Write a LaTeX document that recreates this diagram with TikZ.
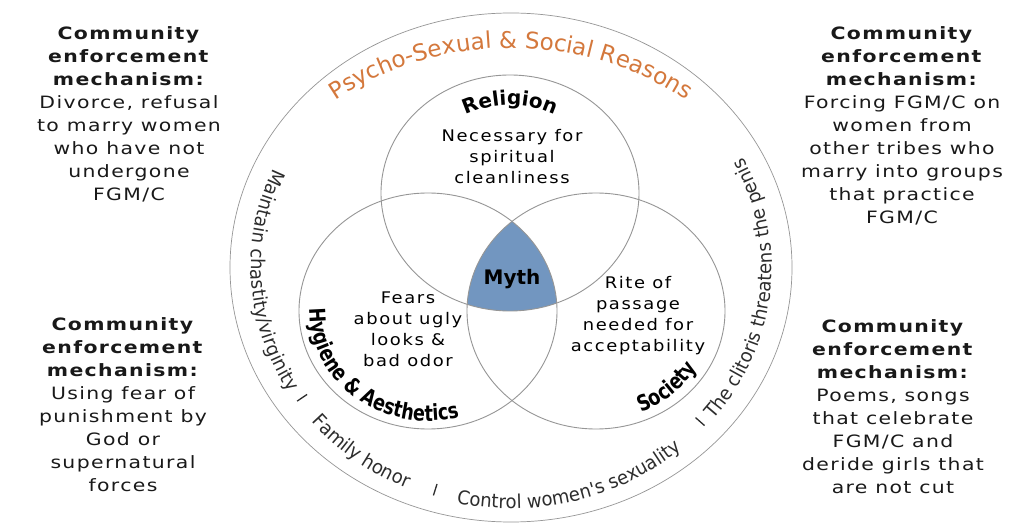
\documentclass[tikz,border=0pt]{standalone}
\usepackage{fontspec}
\setmainfont{DejaVu Sans}
\newfontfamily\sidefont{DejaVu Sans}[FakeStretch=1.2, LetterSpace=8]
\newfontfamily\vennfont{DejaVu Sans}[FakeStretch=1.12, LetterSpace=10]
\newfontfamily\ringfont{DejaVu Sans}[FakeStretch=0.95]
\newfontfamily\reasonfont{DejaVu Sans}
\newfontfamily\labelfont{DejaVu Sans}[FakeStretch=0.8]
\usetikzlibrary{positioning, calc, decorations.text}

\definecolor{ringgray}{RGB}{150,150,150}
\definecolor{mythblue}{RGB}{114,150,192}
\definecolor{reasonorange}{RGB}{212,120,60}
\definecolor{ringtext}{RGB}{45,45,45}

\newcommand\mechhead{\textbf{Community}\\\textbf{enforcement}\\\textbf{mechanism:}}

\begin{document}
\begin{tikzpicture}[x=1pt, y=-1pt,
  venn/.style={draw=ringgray, line width=0.9pt},
  sidebox/.style={inner sep=0pt, anchor=north, align=center, text=black!90,
    font=\sidefont\fontsize{17}{23}\selectfont},
  venntext/.style={inner sep=0pt, anchor=north, align=center,
    font=\vennfont\fontsize{16}{21}\selectfont},
  ringlabel/.style={decorate, decoration={text along path, text align=center,
    text color=ringtext, text={|\ringfont\fontsize{19}{21}\selectfont|#1}}},
  circlelabel/.style={decorate, decoration={text along path, text align=center,
    text={|\labelfont\bfseries\fontsize{22}{24}\selectfont|#1}}},
  sepmark/.style={draw=ringtext, line width=1.3pt}]
\useasboundingbox (0,0) rectangle (1020,526);
\fill[white] (0,0) rectangle (1020,526);

% outer ring
\draw[draw=ringgray, line width=0.7pt] (511,267.5) ellipse [x radius=281, y radius=254.5];

% Myth = overlap of all three
\begin{scope}
  \clip (510,193) ellipse [x radius=129, y radius=118];
  \clip (428,311) ellipse [x radius=129, y radius=118];
  \fill[mythblue] (596,311) ellipse [x radius=129, y radius=118];
\end{scope}

% the three circles
\draw[venn] (510,193) ellipse [x radius=129, y radius=118];
\draw[venn] (428,311) ellipse [x radius=129, y radius=118];
\draw[venn] (596,311) ellipse [x radius=129, y radius=118];

% curved title
\path[decorate, decoration={text along path, text align=center, text color=reasonorange,
    text={|\reasonfont\fontsize{23}{26}\selectfont|Psycho-Sexual {\&} Social Reasons}}]
  ([shift={(511,317)}]225:296 and 269) arc [start angle=225, end angle=315, x radius=296, y radius=269];

% ring texts and separators
\begin{scope}[shift={(511,267.5)}]
  \path[ringlabel={Maintain chastity/virginity}]
    (210:260 and 241) arc [start angle=210, end angle=143, x radius=260, y radius=241];
  \path[ringlabel={Family honor}]
    (145:260 and 241) arc [start angle=145, end angle=109, x radius=260, y radius=241];
  \path[ringlabel={Control women's sexuality}]
    (105.5:260 and 241) arc [start angle=105.5, end angle=45.5, x radius=260, y radius=241];
  \path[ringlabel={The clitoris threatens the penis}]
    (45:261 and 241) arc [start angle=45, end angle=-33, x radius=261, y radius=241];
  \foreach \a in {146,107.5,41.4}
    \draw[sepmark] (\a:258 and 239) -- (\a:246 and 227);
\end{scope}

% circle headings
\path[decorate, decoration={text along path, text align=center,
    text={|\bfseries\fontsize{20}{22}\selectfont|Religion}}]
  ([shift={(510,193)}]235:97 and 88) arc [start angle=235, end angle=305, x radius=97, y radius=88];
\path[circlelabel={Hygiene {\&} Aesthetics}]
  ([shift={(428,311)}]188:118 and 110) arc [start angle=188, end angle=68, x radius=118, y radius=110];
\path[circlelabel={Society}]
  ([shift={(596,311)}]81:118 and 110) arc [start angle=81, end angle=17, x radius=118, y radius=110];

\node[font=\bfseries\fontsize{20}{22}\selectfont, inner sep=0pt] (myth) at (512,279) {Myth};

% circle contents
\node[venntext] (religiontext) at (512,129) {Necessary for\\spiritual\\cleanliness};
\node[venntext] (hygienetext) at (408,292) {Fears\\about ugly\\looks \&\\bad odor};
\node[venntext] (societytext) at (638,276) {Rite of\\passage\\needed for\\acceptability};

% enforcement mechanisms
\node[sidebox] (topleft) at (129,26) {\mechhead\\Divorce, refusal\\to marry women\\who have not\\undergone\\FGM/C};
\node[sidebox] (topright) at (902,26) {\mechhead\\Forcing FGM/C on\\women from\\other tribes who\\marry into groups\\that practice\\FGM/C};
\node[sidebox] (bottomleft) at (123,317) {\mechhead\\Using fear of\\punishment by\\God or\\supernatural\\forces};
\node[sidebox] (bottomright) at (893,319) {\mechhead\\Poems, songs\\that celebrate\\FGM/C and\\deride girls that\\are not cut};
\end{tikzpicture}
\end{document}
